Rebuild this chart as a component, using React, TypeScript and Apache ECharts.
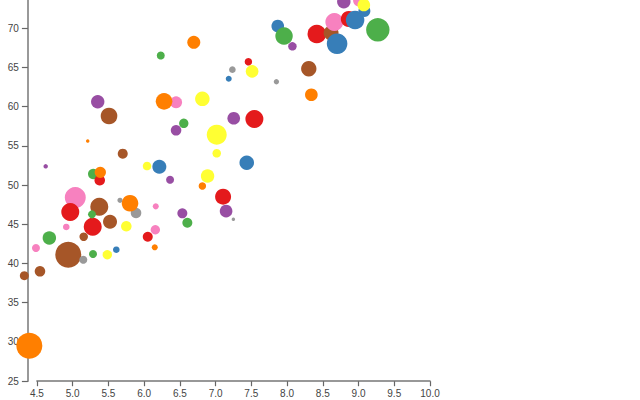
import React, { useEffect, useRef } from "react";
import * as echarts from "echarts";

// Set1 palette, one colour per group
const palette = ["#e41a1c", "#377eb8", "#4daf4a", "#984ea3", "#ff7f00", "#ffff33", "#a65628", "#f781bf", "#999999"];

// x values (e.g. log income)
const xValues = [
  4.394, 4.324, 4.543, 4.487, 4.674, 4.939, 5.149, 5.285, 5.485, 5.611,
  5.155, 4.911, 5.281, 5.523, 5.751, 5.373, 5.271, 5.037, 4.967, 5.663,
  5.887, 5.803, 6.051, 6.157, 6.149, 6.163, 6.535, 6.605, 4.623, 5.289,
  5.379, 5.387, 6.041, 6.213, 6.363, 6.888, 6.815, 7.105, 7.147, 7.249,
  7.436, 7.016, 7.016, 7.254, 7.543, 6.447, 6.555, 6.447, 6.279, 6.815,
  5.351, 5.509, 5.211, 5.701, 6.233, 6.695, 7.459, 7.235, 7.511, 7.184,
  7.851, 8.304, 8.34, 7.87, 7.958, 8.075, 8.416, 8.616, 8.662, 8.7,
  8.864, 8.952, 9.27, 8.794, 9.008, 9.082, 9.074,
];

// y values (e.g. life expectancy)
const yValues = [
  29.52, 38.44, 39.0, 41.97, 43.25, 41.12, 40.48, 41.21, 41.12, 41.75,
  43.41, 44.65, 44.68, 45.32, 44.74, 47.23, 46.26, 48.4, 46.56, 48.05,
  46.43, 47.67, 43.41, 44.3, 42.06, 47.28, 46.39, 45.19, 52.38, 51.4,
  50.6, 51.62, 52.42, 52.33, 50.67, 51.14, 49.87, 48.51, 46.68, 45.63,
  52.84, 54.04, 56.41, 58.5, 58.41, 56.97, 57.86, 60.53, 60.66, 60.98,
  60.61, 58.79, 55.6, 53.99, 66.5, 68.18, 65.71, 64.69, 64.48, 63.54,
  63.16, 64.81, 61.5, 70.25, 68.98, 67.67, 69.24, 69.36, 70.76, 68.0,
  71.15, 71.02, 69.78, 73.35, 73.5, 72.17, 72.93,
];

// bubble weight (e.g. population)
const population = [
  169, 20, 28, 16, 45, 169, 16, 16, 22, 11,
  18, 11, 81, 49, 28, 81, 16, 110, 81, 7,
  28, 69, 25, 22, 9, 9, 25, 25, 5, 28,
  28, 32, 18, 49, 16, 45, 14, 64, 40, 3,
  53, 18, 100, 40, 81, 28, 22, 36, 69, 53,
  45, 69, 3, 25, 16, 42, 14, 11, 40, 9,
  7, 59, 40, 40, 76, 18, 86, 56, 81, 106,
  64, 86, 137, 45, 36, 36, 40,
];

// group index into palette
const groups = [
  4, 6, 6, 7, 2, 6, 8, 2, 5, 1,
  6, 7, 0, 6, 5, 6, 2, 7, 0, 8,
  8, 4, 0, 7, 4, 7, 3, 2, 3, 2,
  0, 4, 5, 1, 3, 5, 4, 0, 3, 8,
  1, 5, 5, 3, 0, 3, 2, 7, 4, 5,
  3, 6, 4, 6, 2, 4, 0, 8, 5, 1,
  8, 6, 4, 1, 2, 3, 0, 6, 7, 1,
  0, 1, 2, 3, 7, 1, 5,
];

const xTicks = { min: 4.5, max: 10, interval: 0.5 };
const yTicks = { min: 25, max: 75, interval: 5 };

export default function App() {
  const ref = useRef<HTMLDivElement>(null);
  useEffect(() => {
    if (!ref.current) return;
    const chart = echarts.init(ref.current, null, { renderer: "svg" });
    const data = xValues.map((x, i) => ({
      value: [x, yValues[i], population[i]],
      itemStyle: { color: palette[groups[i]], opacity: 1 },
    }));
    const font = "'Liberation Sans', Arial, sans-serif";
    chart.setOption({
      animation: false,
      backgroundColor: "#ffffff",
      grid: {
        left: 36.9,
        right: 210,
        top: -11.2,
        bottom: 18.8,
        containLabel: false,
        outerBoundsMode: "none",
      },
      xAxis: {
        type: "value",
        min: xTicks.min,
        max: xTicks.max,
        interval: xTicks.interval,
        splitLine: { show: false },
        axisLine: { show: true, lineStyle: { color: "#777", width: 1.5 } },
        axisTick: { show: true, length: 5, lineStyle: { color: "#666", width: 1.2 } },
        axisLabel: {
          margin: 7,
          fontSize: 10,
          fontFamily: font,
          color: "#444",
          formatter: (v: number) => v.toFixed(1),
        },
      },
      yAxis: {
        type: "value",
        min: yTicks.min,
        max: yTicks.max,
        interval: yTicks.interval,
        offset: 9,
        splitLine: { show: false },
        axisLine: { show: true, lineStyle: { color: "#777", width: 1.5 } },
        axisTick: { show: true, length: 6, lineStyle: { color: "#666", width: 1.2 } },
        axisLabel: {
          margin: 9,
          fontSize: 10,
          fontFamily: font,
          color: "#444",
          showMaxLabel: false,
          formatter: (v: number) => String(v),
        },
      },
      series: [
        {
          type: "scatter",
          clip: false,
          symbol: "circle",
          symbolSize: (val: number[]) => 2 * Math.sqrt(val[2]),
          data,
          emphasis: { disabled: true },
        },
      ],
    });
    return () => chart.dispose();
  }, []);
  return (
    <div
      ref={ref}
      style={{ position: "fixed", left: 0, top: 0, width: 640, height: 400 }}
    />
  );
}
